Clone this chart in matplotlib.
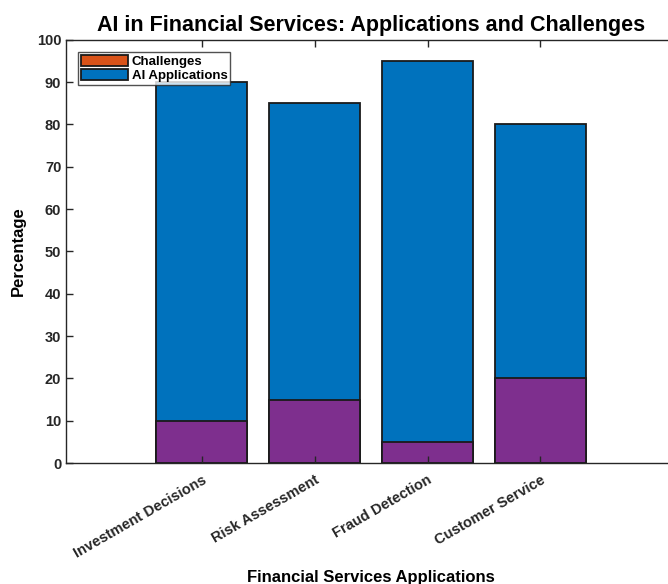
import matplotlib.pyplot as plt
from matplotlib.patches import Patch

categories = ['Investment Decisions', 'Risk Assessment', 'Fraud Detection', 'Customer Service']
ai_applications = [90, 85, 95, 80]
challenges = [10, 15, 5, 20]

plt.rcParams['font.family'] = ['Liberation Sans', 'DejaVu Sans']

blue = '#0072BD'
purple = '#7E2F8E'
orange = '#D95319'
edge = '#1a1a1a'

fig = plt.figure(figsize=(6.68, 5.84), dpi=100)
ax = fig.add_axes([0.099, 0.207, 0.913, 0.725])

x = list(range(1, len(categories) + 1))
ax.bar(x, ai_applications, width=0.8, color=blue, edgecolor=edge, linewidth=1.3)
ax.bar(x, challenges, width=0.8, color=purple, edgecolor=edge, linewidth=1.3)

ax.set_xlim(-0.2, 5.2)
ax.set_ylim(0, 100)
ax.set_yticks(range(0, 101, 10))
ax.set_xticks(x)
ax.set_xticklabels(categories, rotation=30, ha='right', rotation_mode='anchor',
                   fontsize=10.5, fontweight='bold', color='#303030')
for lab in ax.get_yticklabels():
    lab.set_fontweight('bold')
    lab.set_fontsize(10.5)
    lab.set_color('#262626')

ax.tick_params(axis='x', direction='in', top=True, length=5, width=1, colors='#262626', pad=7)
ax.tick_params(axis='y', direction='in', length=5, width=1, colors='#262626')
ax.spines['right'].set_visible(False)
for s in ['left', 'bottom', 'top']:
    ax.spines[s].set_color('#262626')
    ax.spines[s].set_linewidth(1)

ax.set_title('AI in Financial Services: Applications and Challenges',
             fontsize=15.5, fontweight='bold', pad=6)
ax.set_xlabel('Financial Services Applications', fontsize=12, fontweight='bold', labelpad=7)
ax.set_ylabel('Percentage', fontsize=12, fontweight='bold', labelpad=8)

handles = [Patch(facecolor=orange, edgecolor=edge, linewidth=1.3),
           Patch(facecolor=blue, edgecolor=edge, linewidth=1.3)]
leg = ax.legend(handles, ['Challenges', 'AI Applications'], loc='upper left',
                bbox_to_anchor=(0.02, 0.97), fontsize=9.5, frameon=True, fancybox=False,
                edgecolor='#262626', handlelength=3.6, handleheight=0.9,
                handletextpad=0.25, borderpad=0.2, labelspacing=0.1, borderaxespad=0)
leg.get_frame().set_linewidth(1)
for t in leg.get_texts():
    t.set_fontweight('bold')

fig.savefig('out.png', dpi=100)
